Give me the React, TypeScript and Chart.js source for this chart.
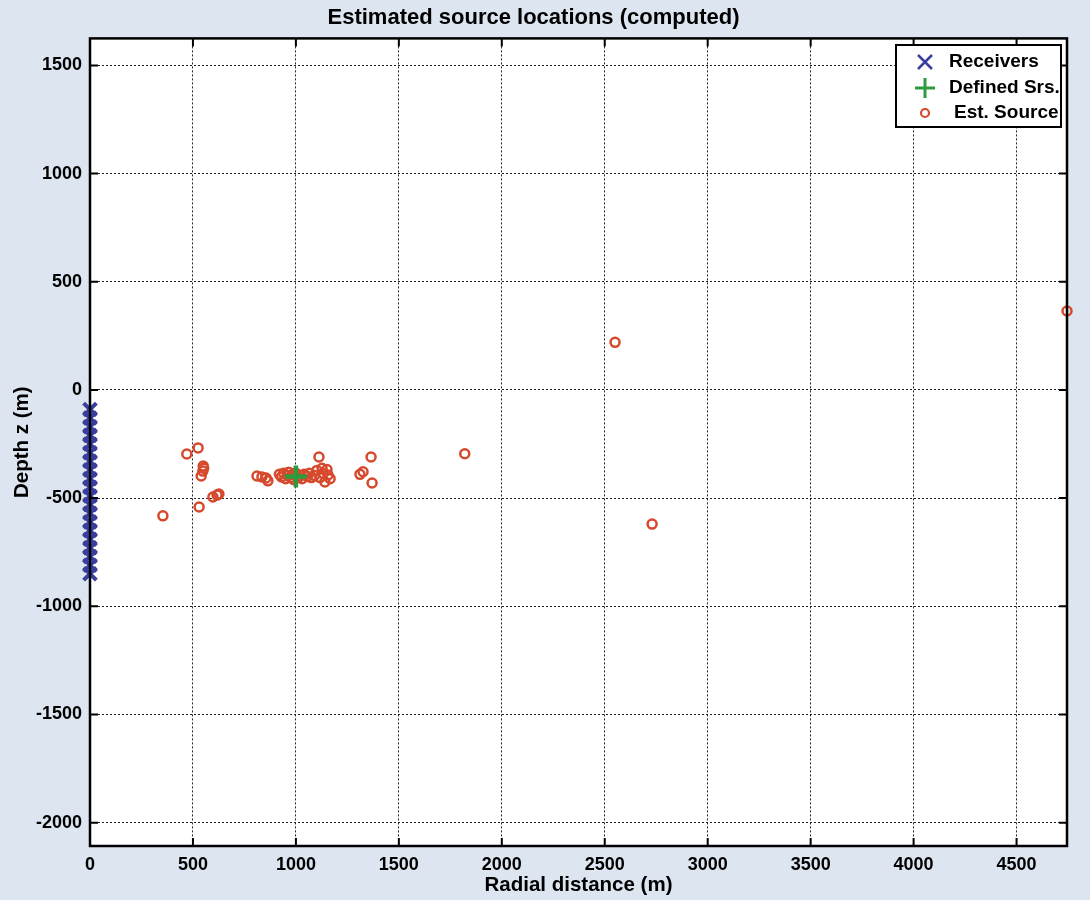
import React, { useEffect, useRef } from 'react';
import { Chart, registerables } from 'chart.js';

Chart.register(...registerables);

const receiverX = [0, 0, 0, 0, 0, 0, 0, 0, 0, 0, 0, 0, 0, 0, 0, 0, 0, 0, 0, 0];
const receiverZ = [-90, -130, -170, -210, -250, -290, -330, -370, -410, -450, -490, -530, -570, -610, -650, -690, -730, -770, -810, -850];

const definedX = [1000];
const definedZ = [-400];

const estX = [
  354, 470, 525, 550, 552, 548, 540, 530, 597, 617, 626,
  811, 835, 855, 864,
  920, 930, 940, 950, 960, 965, 975, 985, 990, 1000, 1010, 1020, 1030, 1040, 1055, 1065, 1075, 1090,
  1102, 1112, 1127, 1132, 1141, 1151, 1156, 1117, 1166,
  1311, 1326, 1365, 1370,
  1820, 2550, 2730, 4745,
];
const estZ = [
  -582, -296, -268, -352, -362, -375, -398, -541, -495, -486, -481,
  -398, -402, -407, -420,
  -390, -402, -385, -410, -395, -380, -405, -390, -415, -385, -405, -395, -410, -390, -400, -385, -405, -395,
  -372, -310, -362, -385, -425, -368, -393, -405, -410,
  -390, -378, -310, -430,
  -295, 220, -620, 365,
];

const xTicks = [0, 500, 1000, 1500, 2000, 2500, 3000, 3500, 4000, 4500];
const zTicks = [1500, 1000, 500, 0, -500, -1000, -1500, -2000];
const xRange = [0, 4745];
const zRange = [-2108, 1625];

const titleText = 'Estimated source locations (computed)';
const xLabel = 'Radial distance (m)';
const zLabel = 'Depth z (m)';
const legendLabels = ['Receivers', 'Defined Srs.', 'Est. Source'];

const BLUE = '#3a3e9e';
const GREEN = '#2e9a3c';
const RED = '#d6492c';
const FONT = '"Liberation Sans", Arial, sans-serif';

const toPts = (xs: number[], ys: number[]) => xs.map((x, i) => ({ x, y: ys[i] }));

export default function App() {
  const ref = useRef<HTMLCanvasElement | null>(null);

  useEffect(() => {
    document.body.style.margin = '0';
    const canvas = ref.current;
    if (!canvas) return;

    const bgPlugin = {
      id: 'bg',
      beforeDraw(chart: any) {
        const { ctx, chartArea: a } = chart;
        ctx.save();
        ctx.fillStyle = '#dde5f0';
        ctx.fillRect(0, 0, chart.width, chart.height);
        ctx.fillStyle = '#ffffff';
        ctx.fillRect(a.left, a.top, a.right - a.left, a.bottom - a.top);
        ctx.restore();
      },
    };

    const framePlugin = {
      id: 'frame',
      afterDatasetsDraw(chart: any) {
        const { ctx, chartArea: a, scales } = chart;
        ctx.save();
        ctx.strokeStyle = '#000';
        ctx.lineWidth = 2;
        const tl = 8;
        ctx.beginPath();
        for (const v of xTicks) {
          const px = scales.x.getPixelForValue(v);
          ctx.moveTo(px, a.bottom);
          ctx.lineTo(px, a.bottom - tl);
          ctx.moveTo(px, a.top);
          ctx.lineTo(px, a.top + tl);
        }
        for (const v of zTicks) {
          const py = scales.y.getPixelForValue(v);
          ctx.moveTo(a.left, py);
          ctx.lineTo(a.left + tl, py);
          ctx.moveTo(a.right, py);
          ctx.lineTo(a.right - tl, py);
        }
        ctx.stroke();
        ctx.lineWidth = 2.5;
        ctx.strokeRect(a.left, a.top, a.right - a.left, a.bottom - a.top);
        ctx.restore();
      },
    };

    const legendPlugin = {
      id: 'customLegend',
      afterDraw(chart: any) {
        const { ctx } = chart;
        ctx.save();
        const bx = 896, by = 45, bw = 165, bh = 82;
        ctx.fillStyle = '#fff';
        ctx.fillRect(bx, by, bw, bh);
        ctx.strokeStyle = '#000';
        ctx.lineWidth = 2;
        ctx.strokeRect(bx, by, bw, bh);
        const sx = 925;
        const rows = [62, 88, 113];
        ctx.strokeStyle = BLUE;
        ctx.lineWidth = 2.5;
        ctx.beginPath();
        ctx.moveTo(sx - 7, rows[0] - 7);
        ctx.lineTo(sx + 7, rows[0] + 7);
        ctx.moveTo(sx + 7, rows[0] - 7);
        ctx.lineTo(sx - 7, rows[0] + 7);
        ctx.stroke();
        ctx.strokeStyle = GREEN;
        ctx.lineWidth = 3;
        ctx.beginPath();
        ctx.moveTo(sx - 10, rows[1]);
        ctx.lineTo(sx + 10, rows[1]);
        ctx.moveTo(sx, rows[1] - 10);
        ctx.lineTo(sx, rows[1] + 10);
        ctx.stroke();
        ctx.strokeStyle = RED;
        ctx.lineWidth = 2.2;
        ctx.beginPath();
        ctx.arc(sx, rows[2], 4, 0, Math.PI * 2);
        ctx.stroke();
        ctx.fillStyle = '#000';
        ctx.font = `bold 19px ${FONT}`;
        ctx.textBaseline = 'middle';
        ctx.textAlign = 'left';
        ctx.fillText(legendLabels[0], 949, rows[0]);
        ctx.fillText(legendLabels[1], 949, rows[1]);
        ctx.fillText(legendLabels[2], 954, rows[2]);
        ctx.restore();
      },
    };

    const chart = new Chart(canvas, {
      type: 'scatter',
      data: {
        datasets: [
          {
            label: legendLabels[0],
            data: toPts(receiverX, receiverZ),
            pointStyle: 'crossRot',
            pointRadius: 9,
            pointBorderWidth: 4,
            borderColor: BLUE,
            backgroundColor: BLUE,
            clip: false,
            order: 1,
          },
          {
            label: legendLabels[1],
            data: toPts(definedX, definedZ),
            pointStyle: 'cross',
            pointRadius: 11,
            pointBorderWidth: 4.5,
            borderColor: GREEN,
            backgroundColor: GREEN,
            clip: false,
            order: 0,
          },
          {
            label: legendLabels[2],
            data: toPts(estX, estZ),
            pointStyle: 'circle',
            pointRadius: 4.5,
            pointBorderWidth: 2.5,
            borderColor: RED,
            backgroundColor: 'rgba(0,0,0,0)',
            clip: false,
            order: 2,
          },
        ],
      },
      options: {
        responsive: false,
        animation: false,
        layout: { padding: { left: 0, right: 23, top: 0, bottom: 0 } },
        plugins: {
          legend: { display: false },
          tooltip: { enabled: false },
          title: {
            display: true,
            text: titleText,
            color: '#000',
            font: { family: FONT, size: 22, weight: 'bold' },
            padding: { top: 5, bottom: 7 },
          },
        },
        scales: {
          x: {
            type: 'linear',
            min: xRange[0],
            max: xRange[1],
            afterBuildTicks: (s: any) => {
              s.ticks = xTicks.map((v) => ({ value: v }));
            },
            afterFit: (s: any) => {
              s.height = 54;
            },
            ticks: {
              color: '#000',
              font: { family: FONT, size: 18, weight: 'bold' },
              padding: 8,
              maxRotation: 0,
              autoSkip: false,
              includeBounds: false,
              callback: (v: any) => String(v),
            },
            grid: { color: '#222', lineWidth: 1, drawTicks: false },
            border: { display: false, dash: [2, 2] },
            title: {
              display: true,
              text: xLabel,
              color: '#000',
              font: { family: FONT, size: 20.5, weight: 'bold' },
              padding: { top: 0, bottom: 2 },
            },
          },
          y: {
            type: 'linear',
            min: zRange[0],
            max: zRange[1],
            afterBuildTicks: (s: any) => {
              s.ticks = zTicks.map((v) => ({ value: v }));
            },
            afterFit: (s: any) => {
              s.width = 90;
            },
            ticks: {
              color: '#000',
              font: { family: FONT, size: 18, weight: 'bold' },
              padding: 8,
              autoSkip: false,
              includeBounds: false,
              callback: (v: any) => String(v),
            },
            grid: { color: '#222', lineWidth: 1, drawTicks: false },
            border: { display: false, dash: [2, 2] },
            title: {
              display: true,
              text: zLabel,
              color: '#000',
              font: { family: FONT, size: 20.5, weight: 'bold' },
              padding: { top: 10, bottom: 0 },
            },
          },
        },
      },
      plugins: [bgPlugin, framePlugin, legendPlugin],
    } as any);

    return () => chart.destroy();
  }, []);

  return (
    <div style={{ width: 1090, height: 900 }}>
      <canvas ref={ref} width={1090} height={900} style={{ display: 'block' }} />
    </div>
  );
}
